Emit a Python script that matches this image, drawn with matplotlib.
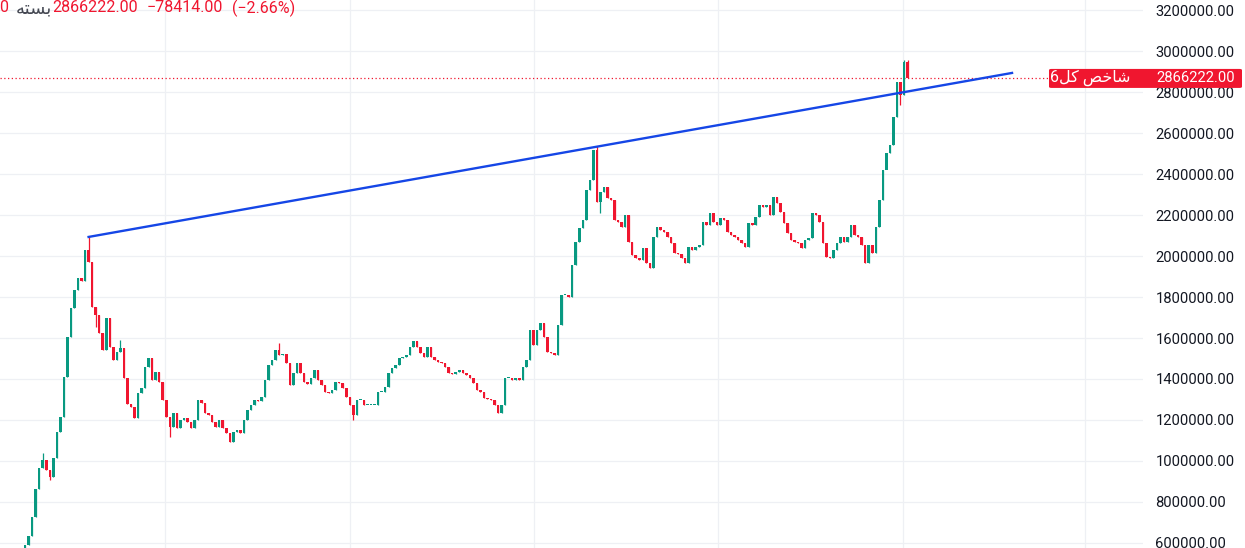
import numpy as np
import matplotlib.pyplot as plt
from matplotlib.patches import FancyBboxPatch

plt.rcParams['font.family'] = ['Roboto', 'DejaVu Sans']

# daily closes of the index, in thousands (left to right)
closes_k = [
    590, 634, 727, 864, 966, 1005, 956, 922, 1015, 1141,
    1215, 1410, 1605, 1746, 1834, 1893, 1878, 2029, 1971, 1751,
    1712, 1624, 1541, 1698, 1556, 1493, 1532, 1551, 1405, 1278,
    1263, 1210, 1332, 1356, 1459, 1502, 1395, 1434, 1385, 1298,
    1215, 1166, 1234, 1161, 1200, 1210, 1190, 1161, 1200, 1298,
    1283, 1234, 1224, 1190, 1166, 1200, 1161, 1137, 1093, 1141,
    1151, 1137, 1200, 1249, 1273, 1298, 1293, 1312, 1395, 1468,
    1493, 1541, 1517, 1522, 1478, 1371, 1429, 1478, 1429, 1385,
    1376, 1405, 1444, 1395, 1371, 1337, 1332, 1346, 1385, 1381,
    1356, 1312, 1273, 1224, 1298, 1298, 1273, 1273, 1273, 1273,
    1337, 1337, 1361, 1429, 1454, 1468, 1502, 1507, 1517, 1556,
    1585, 1556, 1527, 1507, 1556, 1507, 1493, 1483, 1478, 1459,
    1429, 1424, 1434, 1444, 1429, 1419, 1405, 1381, 1346, 1337,
    1307, 1302, 1298, 1273, 1234, 1273, 1405, 1405, 1395, 1405,
    1395, 1459, 1493, 1639, 1566, 1639, 1673, 1605, 1532, 1527,
    1517, 1663, 1810, 1810, 1800, 1956, 2068, 2137, 2176, 2322,
    2371, 2517, 2263, 2312, 2337, 2283, 2273, 2176, 2166, 2141,
    2200, 2068, 2005, 1990, 1981, 2039, 1966, 1941, 2093, 2141,
    2127, 2117, 2093, 2063, 2015, 2010, 1990, 1966, 2044, 2029,
    2044, 2054, 2166, 2151, 2210, 2166, 2151, 2185, 2176, 2117,
    2102, 2093, 2078, 2063, 2044, 2161, 2151, 2190, 2249, 2239,
    2249, 2200, 2288, 2259, 2215, 2161, 2112, 2078, 2068, 2063,
    2039, 2078, 2088, 2210, 2200, 2166, 2063, 1995, 1990, 2029,
    2063, 2093, 2068, 2093, 2151, 2102, 2093, 2054, 1966, 2054,
    2015, 2141, 2273, 2420, 2502, 2542, 2678, 2849, 2785, 2946,
    2866.222,
]
first_open_k = 575

# candles with visible wicks: index -> (high, low), thousands
wicks_k = {
    5: (1039, None), 7: (None, 907), 18: (2093, None), 20: (None, 1655),
    27: (1590, None), 41: (None, 1117), 72: (1576, None), 93: (None, 1200),
    162: (2535, None), 163: (None, 2210), 244: (None, 2444),
    248: (None, 2737), 249: (2956, None), 250: (2956, None),
}

# trend line drawn on the chart: (candle index, price)
trend_x = [18, 279.6]
trend_y = [2093000, 2893000]

last_close = 2866222.00
change = -78414.00
change_pct = -2.66

y_ticks = np.arange(600000, 3200001, 200000)

closes = np.array(closes_k) * 1000
opens = np.concatenate([[first_open_k * 1000], closes[:-1]])
idx = np.arange(len(closes))
highs = np.maximum(opens, closes)
lows = np.minimum(opens, closes)
for i, (h, l) in wicks_k.items():
    if h is not None:
        highs[i] = h * 1000
    if l is not None:
        lows[i] = l * 1000

green = '#089981'
red = '#f0162f'
up = closes >= opens
colors = np.where(up, green, red)

fig = plt.figure(figsize=(12.45, 5.48), dpi=100)
ax = fig.add_axes([0, 0, 1143 / 1245, 1])

ax.vlines(idx, lows, highs, colors=colors, lw=0.9, zorder=2)
body_h = np.maximum(np.abs(closes - opens), 5000)
ax.bar(idx, body_h, bottom=np.minimum(opens, closes), width=0.72,
       color=colors, lw=0, zorder=3)

ax.plot(trend_x, trend_y, color='#1546e6', lw=1.7, zorder=4)
ax.axhline(last_close, color=red, lw=0.9, ls=(0, (1, 2)), zorder=1)

ax.set_xlim(-7.1, 316.7)
ax.set_ylim(575600, 3248800)
ax.set_xticks([39.7, 92.1, 144.2, 196.3, 248.7, 300.3])
ax.set_xticklabels([])
ax.set_yticks(y_ticks)
ax.set_yticklabels([f'{v:.2f}' for v in y_ticks])
ax.yaxis.tick_right()
ax.tick_params(length=0, labelsize=10.6, labelcolor='#131722', pad=9)
ax.tick_params(axis='x', length=0)
ax.grid(True, color='#eef0f4', lw=0.9)
ax.set_axisbelow(True)
for s in ax.spines.values():
    s.set_visible(False)

# price label on the right scale
py = fig.transFigure.inverted().transform(ax.transData.transform((0, last_close)))[1]
fig.patches.append(FancyBboxPatch((1049 / 1245, py - 9.5 / 548), 193 / 1245, 19 / 548,
                                  boxstyle='round,pad=0,rounding_size=0.002',
                                  transform=fig.transFigure, color=red, lw=0))
fig.text(1156 / 1245, py, f'{last_close:.2f}', color='white', fontsize=10.6,
         va='center', ha='left')
fig.text(1050 / 1245, py + 1 / 548, '6\uFEDE\uFB90 \uFEBA\uFEA7\uFE8E\uFEB7', color='white',
         fontsize=11.5, va='center', ha='left')

# header
ty = 1 - 8 / 548
fig.text(-1 / 1245, ty, '0', color=red, fontsize=11.5, va='center')
fig.text(16 / 1245, ty, '\uFEEA\uFE98\uFEB4\uFE91', color='#434651', fontsize=13, va='center')
fig.text(52 / 1245, ty, f'{last_close:.2f}', color=red, fontsize=11.5, va='center')
fig.text(147 / 1245, ty, f'\u2212{abs(change):.2f}', color=red, fontsize=11.5, va='center')
fig.text(232 / 1245, ty, f'(\u2212{abs(change_pct):.2f}%)', color=red, fontsize=11.5, va='center')

fig.savefig('out.png', dpi=100)
